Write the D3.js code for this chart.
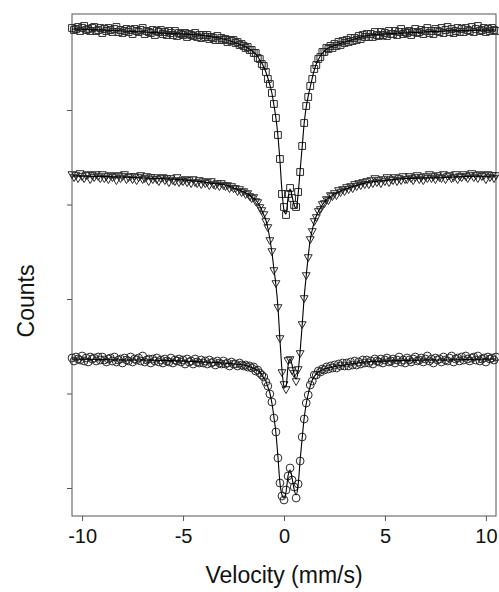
<!DOCTYPE html>
<html>
<head>
<meta charset="utf-8">
<script src="https://cdn.jsdelivr.net/npm/d3@7"></script>
<style>
  html, body { margin: 0; padding: 0; background: #fff; }
  svg { display: block; }
  text { font-family: "Liberation Sans", Arial, Helvetica, sans-serif; fill: #111; }
</style>
</head>
<body>
<div id="chart"></div>
<script>
// Velocity channels (mm/s)
const velocity = [
-10.5,-10.4,-10.3,-10.2,-10.1,-10,-9.9,-9.8,-9.7,-9.6,
-9.5,-9.4,-9.3,-9.2,-9.1,-9,-8.9,-8.8,-8.7,-8.6,
-8.5,-8.4,-8.3,-8.2,-8.1,-8,-7.9,-7.8,-7.7,-7.6,
-7.5,-7.4,-7.3,-7.2,-7.1,-7,-6.9,-6.8,-6.7,-6.6,
-6.5,-6.4,-6.3,-6.2,-6.1,-6,-5.9,-5.8,-5.7,-5.6,
-5.5,-5.4,-5.3,-5.2,-5.1,-5,-4.9,-4.8,-4.7,-4.6,
-4.5,-4.4,-4.3,-4.2,-4.1,-4,-3.9,-3.8,-3.7,-3.6,
-3.5,-3.4,-3.3,-3.2,-3.1,-3,-2.9,-2.8,-2.7,-2.6,
-2.5,-2.4,-2.3,-2.2,-2.1,-2,-1.9,-1.8,-1.7,-1.6,
-1.5,-1.4,-1.3,-1.2,-1.1,-1,-0.9,-0.8,-0.7,-0.6,
-0.5,-0.4,-0.3,-0.2,-0.1,0,0.1,0.2,0.3,0.4,
0.5,0.6,0.7,0.8,0.9,1,1.1,1.2,1.3,1.4,
1.5,1.6,1.7,1.8,1.9,2,2.1,2.2,2.3,2.4,
2.5,2.6,2.7,2.8,2.9,3,3.1,3.2,3.3,3.4,
3.5,3.6,3.7,3.8,3.9,4,4.1,4.2,4.3,4.4,
4.5,4.6,4.7,4.8,4.9,5,5.1,5.2,5.3,5.4,
5.5,5.6,5.7,5.8,5.9,6,6.1,6.2,6.3,6.4,
6.5,6.6,6.7,6.8,6.9,7,7.1,7.2,7.3,7.4,
7.5,7.6,7.7,7.8,7.9,8,8.1,8.2,8.3,8.4,
8.5,8.6,8.7,8.8,8.9,9,9.1,9.2,9.3,9.4,
9.5,9.6,9.7,9.8,9.9,10,10.1,10.2,10.3,10.4,
10.5];

// Counts (arbitrary units, spectra offset vertically) — squares (top)
const countsSquares = [
488,486,487,489,485,488,490,486,487,485,
488,489,485,486,488,483,487,485,488,486,
484,487,489,484,486,483,485,487,484,486,
482,487,485,484,486,488,482,485,484,483,
486,481,485,484,486,482,484,481,485,483,
481,485,480,483,482,481,483,479,482,481,
480,483,479,481,478,481,479,481,477,479,
478,476,480,476,478,476,477,474,476,475,
476,473,474,471,472,470,468,469,466,466,
463,463,458,457,452,450,444,437,432,423,
412,398,381,357,322,309,301,322,328,318,
311,309,324,344,370,393,410,419,430,437,
447,451,457,459,464,464,468,467,470,468,
472,470,474,471,475,473,476,474,478,475,
478,476,480,477,481,479,482,479,482,479,
484,481,480,484,481,483,480,485,482,482,
485,481,484,487,482,484,483,485,481,484,
487,483,484,486,482,485,488,483,485,482,
487,485,484,488,483,486,489,484,487,483,
485,488,484,487,484,488,486,485,489,484,
487,490,485,486,488,484,487,485,488,486,
485];

// triangles (middle)
const countsTriangles = [
342,339,341,338,343,340,338,341,342,337,
341,339,342,340,338,342,338,340,337,341,
339,340,336,341,338,340,342,337,339,340,
337,340,336,339,341,337,338,340,335,339,
337,339,337,335,338,339,336,338,334,338,
336,335,339,334,336,335,337,334,336,333,
337,334,333,336,332,335,333,334,331,335,
332,331,333,330,333,331,330,331,328,330,
328,328,325,327,324,325,322,323,320,318,
319,315,314,309,306,302,295,289,276,265,
246,233,209,178,144,132,127,156,157,146,
143,135,147,163,192,218,241,259,277,285,
295,299,305,307,312,313,317,316,321,320,
323,321,326,324,327,325,329,327,330,328,
332,330,333,331,334,332,335,332,336,333,
338,334,336,333,337,335,339,334,337,336,
339,335,338,336,340,337,337,340,338,336,
339,341,337,339,336,340,338,342,338,340,
337,341,339,338,342,337,340,341,338,339,
342,337,340,339,342,340,338,341,343,339,
341,338,342,340,341,337,342,339,341,338,
341];

// circles (bottom)
const countsCircles = [
158,155,159,157,156,160,155,158,154,159,
157,158,155,159,156,159,156,154,157,158,
155,159,154,156,157,153,158,156,155,159,
154,157,156,158,155,160,154,156,157,153,
157,155,158,154,156,153,157,155,154,158,
153,156,155,157,154,156,152,157,154,155,
152,157,154,153,156,153,155,152,156,153,
154,151,155,153,152,155,152,153,150,154,
152,152,150,153,151,150,151,149,150,148,
149,145,146,143,141,139,134,130,122,114,
98,84,58,33,20,16,26,40,48,36,
29,18,32,55,79,97,113,121,131,135,
141,141,145,144,147,146,149,147,150,148,
151,148,152,150,153,150,153,150,154,151,
155,151,154,152,156,153,156,153,155,152,
157,155,154,157,153,156,158,154,155,157,
153,156,159,154,156,153,158,156,154,157,
159,155,156,158,154,157,160,155,157,153,
158,156,157,154,159,156,155,158,160,154,
157,158,155,159,156,160,157,155,158,159,
156,160,155,157,158,154,159,157,158,156,
159];

// Fitted curves (solid lines)
const velocityFit = [-10.5,-9,-8,-7,-6,-5,-4,-3.5,-3,-2.5,-2,-1.8,-1.6,-1.4,-1.2,-1.0,-0.9,-0.8,-0.7,-0.6,-0.5,-0.4,-0.3,-0.2,-0.1,0,0.1,0.2,0.3,0.4,0.5,0.6,0.7,0.8,0.9,1.0,1.1,1.2,1.3,1.4,1.5,1.6,1.8,2.0,2.2,2.5,3,3.5,4,5,6,7,8,9,10.5];
const fitSquares = [487,486,485,484,483,482,480.5,479,477,474,470,468,465.5,462,456,449,444,438,431,423,411,398,380,355,325,306,302,318,327,320,311,308,322,346,369,393,409,420,429,438,446,452,460,465,468,470.5,474,477,480,482,483,484,485,485.5,486];
const fitTriangles = [340,339.5,339,338,337.5,336,334,332.5,331.5,328,324,322,319,316,310,301,296,288,277,264,247,231,209,176,146,130,129,150,157,151,142,137,145,165,191,219,240,260,276,286,294,300,308,314,318,322,326.5,330,333,335.5,337.5,338,338.5,339.5,340];
const fitCircles = [157,156.5,156,156,155.5,155,154,153.5,153,152,151,150,148.5,146.5,144,138,135,129,123,113,99,83,59,33,21,18,24,40,46,38,27,21,31,56,78,98,112,122,130,136,139.5,142,145,147,148,149.5,151,152.5,154,155,155.5,156,156,156.5,157];

const xTicks = [-10, -5, 0, 5, 10];
const yTicks = [406, 311.5, 217, 122.5, 28];

const W = 499, H = 592;
const mLeft = 72, mRight = 496, mTop = 14, mBottom = 516;

const svg = d3.select("#chart").append("svg")
  .attr("width", W).attr("height", H);

const x = d3.scaleLinear().domain([-10.5, 10.5]).range([mLeft, mRight]);
const y = d3.scaleLinear().domain([0, 502]).range([mBottom, mTop]);

const axisColor = "#555";

// frame
svg.append("rect")
  .attr("x", mLeft).attr("y", mTop)
  .attr("width", mRight - mLeft).attr("height", mBottom - mTop)
  .attr("fill", "none").attr("stroke", axisColor).attr("stroke-width", 1);

// x axis
const gx = svg.append("g")
  .attr("transform", `translate(0,${mBottom})`)
  .call(d3.axisBottom(x).tickValues(xTicks).tickSize(5).tickPadding(8).tickFormat(d => String(d)));
gx.select(".domain").remove();
gx.selectAll(".tick line").attr("stroke", axisColor);
gx.selectAll(".tick text")
  .style("font-family", '"Liberation Sans", Arial, sans-serif')
  .style("font-size", "20px").attr("fill", "#111");

// y axis (ticks only, no labels)
const gy = svg.append("g")
  .attr("transform", `translate(${mLeft},0)`)
  .call(d3.axisLeft(y).tickValues(yTicks).tickSize(5).tickFormat(""));
gy.select(".domain").remove();
gy.selectAll(".tick line").attr("stroke", axisColor);

// titles
svg.append("text")
  .attr("x", x(0)).attr("y", 583)
  .attr("text-anchor", "middle")
  .style("font-size", "23px")
  .text("Velocity (mm/s)");

svg.append("text")
  .attr("transform", `translate(34,${(mTop + mBottom) / 2 + 36}) rotate(-90)`)
  .attr("text-anchor", "middle")
  .style("font-size", "23px")
  .text("Counts");

const markStroke = "#2a2a2a";
const markGroup = svg.append("g").attr("fill", "none").attr("stroke", markStroke).attr("stroke-width", 1);

function drawSeries(values, symbolType, size) {
  const sym = d3.symbol().type(symbolType).size(size);
  markGroup.append("g").selectAll("path")
    .data(velocity.map((v, i) => [v, values[i]]))
    .join("path")
    .attr("d", sym)
    .attr("transform", d => `translate(${x(d[0])},${y(d[1])})`);
}

// inverted triangle
const triangleDown = {
  draw(context, size) {
    const s = Math.sqrt(size / (Math.sqrt(3) / 4));
    const h = s * Math.sqrt(3) / 2;
    context.moveTo(-s / 2, -h / 3);
    context.lineTo(s / 2, -h / 3);
    context.lineTo(0, 2 * h / 3);
    context.closePath();
  }
};

drawSeries(countsSquares, d3.symbolSquare, 46);
drawSeries(countsTriangles, triangleDown, 27);
drawSeries(countsCircles, d3.symbolCircle, 48);

// fitted lines
const line = d3.line().x(d => x(d[0])).y(d => y(d[1])).curve(d3.curveMonotoneX);
[fitSquares, fitTriangles, fitCircles].forEach(fit => {
  svg.append("path")
    .datum(velocityFit.map((v, i) => [v, fit[i]]))
    .attr("d", line)
    .attr("fill", "none")
    .attr("stroke", "#000")
    .attr("stroke-width", 1.1);
});
</script>
</body>
</html>
